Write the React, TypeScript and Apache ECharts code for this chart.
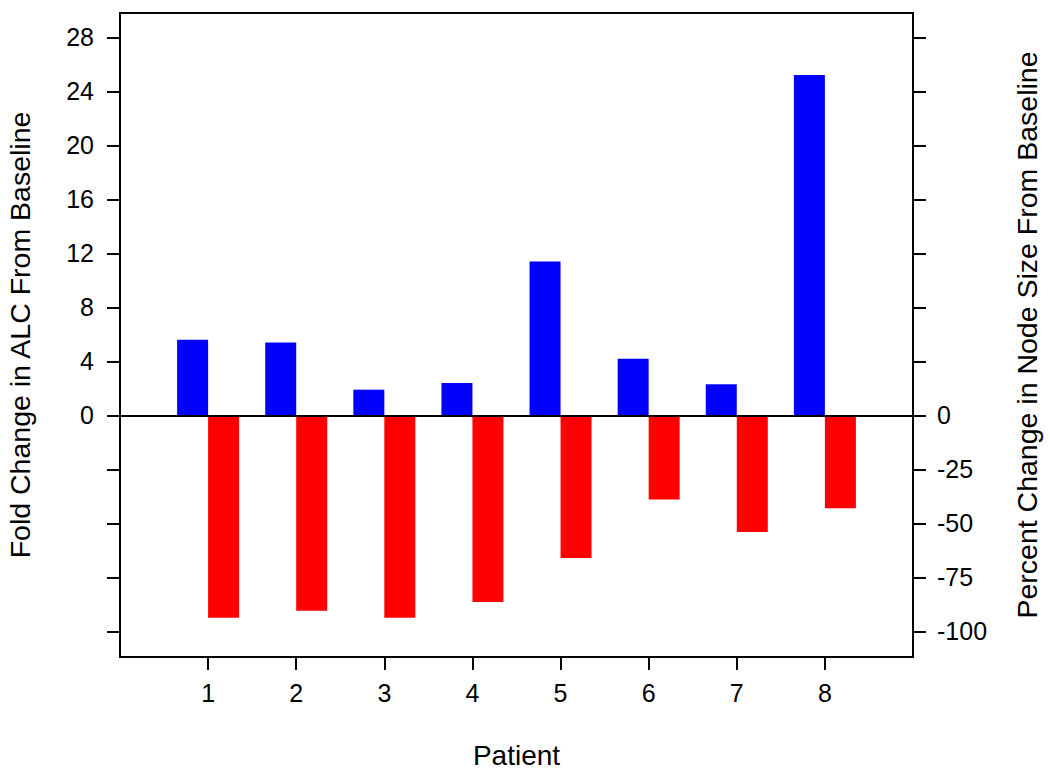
import React, { useEffect, useRef } from "react";
import * as echarts from "echarts";

const patients = [1, 2, 3, 4, 5, 6, 7, 8];
const foldChangeALC = [5.6, 5.4, 1.9, 2.4, 11.4, 4.2, 2.3, 25.2];
const pctChangeNode = [-93.7, -90.5, -93.7, -86.4, -66, -39, -54, -43];
const leftTickValues = [-16, -12, -8, -4, 0, 4, 8, 12, 16, 20, 24, 28];
const leftLabelValues = [0, 4, 8, 12, 16, 20, 24, 28];
const rightTickValues = [-100, -75, -50, -25, 0, 25, 50, 75, 100, 125, 150, 175];
const rightLabelValues = [-100, -75, -50, -25, 0];

const FONT = 'Arial, "Liberation Sans", sans-serif';

export default function App() {
  const ref = useRef<HTMLDivElement>(null);
  useEffect(() => {
    if (!ref.current) return;
    const chart = echarts.init(ref.current, undefined, { renderer: "svg" });
    const axisLine = { show: true, onZero: false, lineStyle: { color: "#000", width: 2 } };
    const axisTickBase = { show: true, length: 13, lineStyle: { color: "#000", width: 2 } };
    const labelBase = { color: "#000", fontSize: 25, fontFamily: FONT };
    chart.setOption({
      animation: false,
      backgroundColor: "#fff",
      grid: {
        left: 120,
        right: 137,
        top: 13,
        bottom: 121,
        show: true,
        borderColor: "#000",
        borderWidth: 2,
        containLabel: false,
        outerBoundsMode: "none",
      },
      xAxis: {
        type: "value",
        min: 0,
        max: 9,
        name: "Patient",
        nameLocation: "middle",
        nameGap: 84,
        nameTextStyle: { color: "#000", fontSize: 28, fontFamily: FONT },
        axisLine,
        axisTick: { ...axisTickBase, customValues: patients },
        axisLabel: { ...labelBase, margin: 23, customValues: patients },
        splitLine: { show: false },
      },
      yAxis: [
        {
          type: "value",
          position: "left",
          min: -17.9,
          max: 29.8,
          name: "Fold Change in ALC From Baseline",
          nameLocation: "middle",
          nameGap: 86,
          nameRotate: 90,
          nameTextStyle: { color: "#000", fontSize: 28.5, fontFamily: FONT },
          axisLine,
          axisTick: { ...axisTickBase, customValues: leftTickValues },
          axisLabel: { ...labelBase, margin: 26, customValues: leftLabelValues },
          splitLine: { show: false },
        },
        {
          type: "value",
          position: "right",
          min: -17.9 * 6.25,
          max: 29.8 * 6.25,
          name: "Percent Change in Node Size From Baseline",
          nameLocation: "middle",
          nameGap: 99,
          nameRotate: 90,
          nameTextStyle: { color: "#000", fontSize: 28.5, fontFamily: FONT },
          axisLine,
          axisTick: { ...axisTickBase, customValues: rightTickValues },
          axisLabel: { ...labelBase, margin: 24, customValues: rightLabelValues },
          splitLine: { show: false },
        },
      ],
      series: [
        {
          type: "bar",
          yAxisIndex: 0,
          barWidth: 31,
          barGap: "0%",
          itemStyle: { color: "#0000FF" },
          data: patients.map((p, i) => [p, foldChangeALC[i]]),
          markLine: {
            silent: true,
            symbol: ["none", "none"],
            label: { show: false },
            lineStyle: { color: "#000", width: 2, type: "solid" },
            data: [{ yAxis: 0 }],
          },
          z: 2,
        },
        {
          type: "bar",
          yAxisIndex: 1,
          barWidth: 31,
          barGap: "0%",
          itemStyle: { color: "#FF0000" },
          data: patients.map((p, i) => [p, pctChangeNode[i]]),
          z: 2,
        },
      ],
    });
    return () => chart.dispose();
  }, []);
  return (
    <div
      ref={ref}
      style={{ position: "fixed", left: 0, top: 0, width: 1050, height: 778, background: "#fff" }}
    />
  );
}
